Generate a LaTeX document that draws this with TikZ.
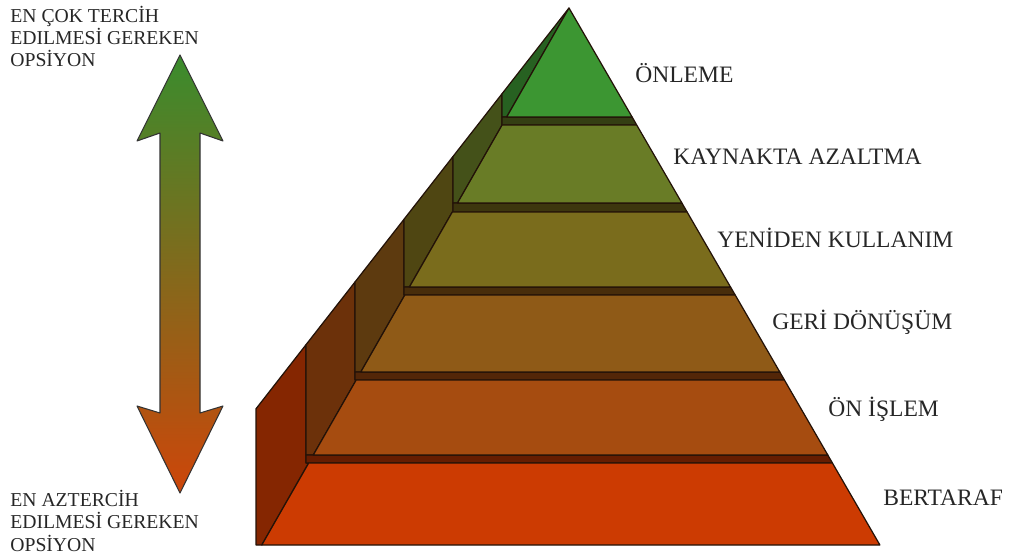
\documentclass[tikz,border=0pt]{standalone}
\usepackage{fontspec}
\setmainfont{Liberation Serif}
\usepackage{xcolor}
\usepackage{tikz}
\definecolor{labelgrey}{RGB}{38,38,38}
\definecolor{edgedark}{RGB}{35,18,8}
\definecolor{bertarafred}{RGB}{204,59,2}
\definecolor{onislembrown}{RGB}{166,76,16}
\definecolor{geridonusumbrown}{RGB}{143,90,23}
\definecolor{yenidenolive}{RGB}{122,108,28}
\definecolor{kaynaktaolive}{RGB}{105,124,38}
\definecolor{onlemegreen}{RGB}{60,150,50}
\definecolor{arrowgreen}{RGB}{58,140,45}
\definecolor{arroworange}{RGB}{205,70,10}
\tikzset{
  tierface/.style={draw=edgedark,line width=0.7pt,line join=round,fill=#1},
  tierwall/.style={draw=edgedark,line width=0.7pt,line join=round,fill=#1!65!black},
  tierledge/.style={draw=edgedark,line width=0.7pt,line join=round,fill=#1!50!black},
  bigarrow/.style={draw=black!80,line width=0.6pt,line join=round,
    top color=arrowgreen,bottom color=arroworange},
  levellabel/.style={font=\fontsize{13.4}{16}\selectfont,text=labelgrey,
    inner sep=0pt,anchor=base west},
  sidelabel/.style={font=\fontsize{11.2}{12.8}\selectfont,text=labelgrey,
    inner sep=0pt,align=left,anchor=base west}
}

\begin{document}
\begin{tikzpicture}[x=0.02cm,y=-0.02cm]
  \useasboundingbox (0,0) rectangle (1011,560);
  % preference arrow
  \path[bigarrow] (180,55) -- (223,141) -- (200,133) -- (200,413) -- (223,406)
    -- (180,493) -- (137,406) -- (160,413) -- (160,133) -- (137,141) -- cycle;
  % side walls
  \path[tierwall=bertarafred] (256,545) -- (256,408.8) -- (306,344.7) -- (306,463)
    -- (308.7,463) -- (261.8,545) -- cycle;
  \path[tierwall=onislembrown] (306,455) -- (306,344.7) -- (355,282) -- (355,380)
    -- (356.2,380) -- (313.3,455) -- cycle;
  \path[tierwall=geridonusumbrown] (355,372) -- (355,282) -- (404,219.3) -- (404,295)
    -- (404.8,295) -- (360.8,372) -- cycle;
  \path[tierwall=yenidenolive] (404,287) -- (404,219.3) -- (453,156.5) -- (453,212)
    -- (452.3,212) -- (409.4,287) -- cycle;
  \path[tierwall=kaynaktaolive] (453,203) -- (453,156.5) -- (502,93.8) -- (502,125)
    -- (502.1,125) -- (457.5,203) -- cycle;
  \path[tierwall=onlemegreen] (502,117) -- (502,93.8) -- (569,8) -- (506.7,117) -- cycle;
  % ledges between tiers
  \path[tierledge=bertarafred] (306,463) -- (306,455) -- (827.8,455) -- (832.4,463) -- cycle;
  \path[tierledge=onislembrown] (355,380) -- (355,372) -- (779.8,372) -- (784.4,380) -- cycle;
  \path[tierledge=geridonusumbrown] (404,295) -- (404,287) -- (730.5,287) -- (735.2,295) -- cycle;
  \path[tierledge=yenidenolive] (453,212) -- (453,203) -- (681.9,203) -- (687.1,212) -- cycle;
  \path[tierledge=kaynaktaolive] (502,125) -- (502,117) -- (632.1,117) -- (636.7,125) -- cycle;
  % front faces
  \path[tierface=bertarafred] (261.8,545) -- (879.9,545) -- (832.4,463) -- (308.7,463) -- cycle;
  \path[tierface=onislembrown] (313.3,455) -- (827.8,455) -- (784.4,380) -- (356.2,380) -- cycle;
  \path[tierface=geridonusumbrown] (360.8,372) -- (779.8,372) -- (735.2,295) -- (404.8,295) -- cycle;
  \path[tierface=yenidenolive] (409.4,287) -- (730.5,287) -- (687.1,212) -- (452.3,212) -- cycle;
  \path[tierface=kaynaktaolive] (457.5,203) -- (681.9,203) -- (636.7,125) -- (502.1,125) -- cycle;
  \path[tierface=onlemegreen] (506.7,117) -- (632.1,117) -- (569,8) -- cycle;
  % labels
  \node[levellabel] (onleme) at (635,83) {ÖNLEME};
  \node[levellabel] (kaynakta) at (673,165) {KAYNAKTA AZALTMA};
  \node[levellabel] (yeniden) at (717,248) {YENİDEN KULLANIM};
  \node[levellabel] (geri) at (772,330) {GERİ DÖNÜŞÜM};
  \node[levellabel] (onislem) at (828,417) {ÖN İŞLEM};
  \node[levellabel] (bertaraf) at (883,505) {BERTARAF};
  \node[sidelabel] (mostpref) at (10,67) {EN ÇOK TERCİH\\EDILMESİ GEREKEN\\OPSİYON};
  \node[sidelabel] (leastpref) at (10,551) {EN AZTERCİH\\EDILMESİ GEREKEN\\OPSİYON};
\end{tikzpicture}
\end{document}
